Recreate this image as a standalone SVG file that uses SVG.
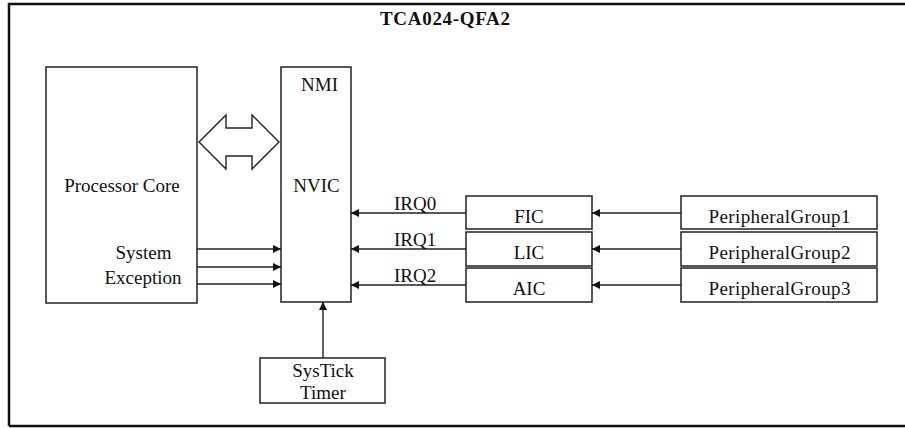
<svg xmlns="http://www.w3.org/2000/svg" width="905" height="428" viewBox="0 0 905 428">
<defs>
<style>
text{font-family:"Liberation Serif","Times New Roman",serif;fill:#111;font-size:19px}
.c{text-anchor:middle}
.box{fill:#fff;stroke:#222;stroke-width:1.5}
.ln{stroke:#222;stroke-width:1.4;fill:none}
</style>
<marker id="ah" viewBox="0 0 10 10" refX="10" refY="5" markerWidth="8" markerHeight="10" markerUnits="userSpaceOnUse" orient="auto">
<path d="M0,0 L10,5 L0,10 Z" fill="#111"/>
</marker>
</defs>
<rect width="905" height="428" fill="#fff"/>
<g id="frame">
<path d="M9,426 L9,4 L910,4 M9,426 L910,426" stroke="#111" stroke-width="2.5" fill="none"/>
<text x="380" y="25" font-weight="bold" font-size="18" textLength="130">TCA024-QFA2</text>
</g>
<g id="processor-core">
<rect class="box" x="46" y="67" width="151" height="236"/>
<text class="c" x="122" y="192">Processor Core</text>
<text class="c" x="143.5" y="259">System</text>
<text class="c" x="143" y="284">Exception</text>
</g>
<g id="nvic">
<rect class="box" x="281" y="67" width="70" height="235"/>
<text class="c" x="319.5" y="91">NMI</text>
<text class="c" x="316.5" y="192">NVIC</text>
</g>
<g id="bus-arrow">
<path d="M199,142 L226,115 L226,128 L252,128 L252,115 L279,142 L252,169 L252,156 L226,156 L226,169 Z" fill="#fff" stroke="#222" stroke-width="1.4"/>
</g>
<g id="fic">
<rect class="box" x="466" y="196" width="126" height="33"/>
<text class="c" x="529" y="223">FIC</text>
</g>
<g id="lic">
<rect class="box" x="466" y="232" width="126" height="34"/>
<text class="c" x="529" y="259">LIC</text>
</g>
<g id="aic">
<rect class="box" x="466" y="268" width="126" height="34"/>
<text class="c" x="529" y="295">AIC</text>
</g>
<g id="pg1">
<rect class="box" x="681" y="196" width="196" height="33"/>
<text class="c" x="779.5" y="223" textLength="142">PeripheralGroup1</text>
</g>
<g id="pg2">
<rect class="box" x="681" y="232" width="196" height="34"/>
<text class="c" x="779.5" y="259" textLength="142">PeripheralGroup2</text>
</g>
<g id="pg3">
<rect class="box" x="681" y="268" width="196" height="34"/>
<text class="c" x="779.5" y="295" textLength="142">PeripheralGroup3</text>
</g>
<g id="systick">
<rect class="box" x="260" y="358" width="125" height="45"/>
<text class="c" x="323" y="377">SysTick</text>
<text class="c" x="323" y="399">Timer</text>
</g>
<g id="connectors">
<line class="ln" x1="197" y1="249" x2="281" y2="249" marker-end="url(#ah)"/>
<line class="ln" x1="197" y1="267" x2="281" y2="267" marker-end="url(#ah)"/>
<line class="ln" x1="197" y1="284" x2="281" y2="284" marker-end="url(#ah)"/>
<line class="ln" x1="466" y1="213" x2="351" y2="213" marker-end="url(#ah)"/>
<line class="ln" x1="466" y1="249" x2="351" y2="249" marker-end="url(#ah)"/>
<line class="ln" x1="466" y1="285" x2="351" y2="285" marker-end="url(#ah)"/>
<line class="ln" x1="681" y1="213" x2="592" y2="213" marker-end="url(#ah)"/>
<line class="ln" x1="681" y1="249" x2="592" y2="249" marker-end="url(#ah)"/>
<line class="ln" x1="681" y1="285" x2="592" y2="285" marker-end="url(#ah)"/>
<line class="ln" x1="323" y1="358" x2="323" y2="302" marker-end="url(#ah)"/>
<text x="394" y="210" font-size="18">IRQ0</text>
<text x="394" y="246" font-size="18">IRQ1</text>
<text x="394" y="282" font-size="18">IRQ2</text>
</g>
</svg>
